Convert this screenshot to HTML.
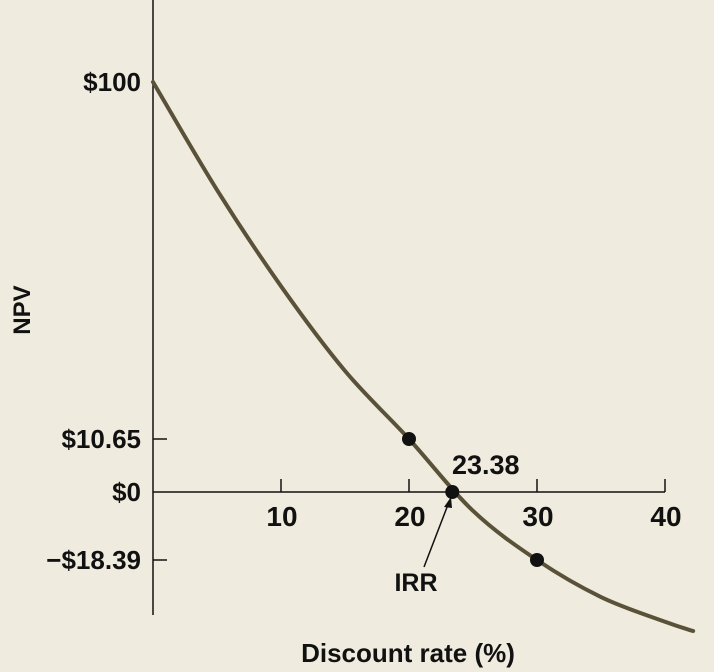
<!DOCTYPE html>
<html><head><meta charset="utf-8"><style>
html,body{margin:0;padding:0;background:#efebdf;}
svg{display:block;font-family:"Liberation Sans",sans-serif;font-weight:bold;}
</style></head><body>
<svg width="714" height="672" viewBox="0 0 714 672">
<rect width="714" height="672" fill="#efebdf"/>
<g id="axes"></g>
<path id="curve" fill="none" stroke="#5a5238" stroke-width="4" stroke-linecap="round"/>
<g id="dots"></g>
<text x="452" y="474" font-size="27" fill="#111" text-anchor="start">23.38</text>
<text x="416" y="591" font-size="25" fill="#111" text-anchor="middle">IRR</text>
<line x1="424" y1="567" x2="449" y2="502" stroke="#111" stroke-width="1.5"/>
<path d="M451,497 L444,507 L452,508 Z" fill="#111"/>
<text x="30" y="310" font-size="24" fill="#111" text-anchor="middle" transform="rotate(-90 30 310)">NPV</text>
<text x="408" y="662" font-size="26" fill="#111" text-anchor="middle">Discount rate (%)</text>
</svg>
<script>
const rates=[0,5,10,15,20,25,30,35,40,42.2];
const npvs=[100,73.0,48.9,27.7,10.65,-5.1,-18.39,-28.4,-35.1,-37.6];
const dotRates=[20,23.38,30];
const dotNpvs=[10.65,0,-18.39];
const xTicks=[10,20,30,40];
const yTicks=[100,10.65,0,-18.39];
const yTickLabels=["$100","$10.65","$0","\u2212$18.39"];
const NS="http://www.w3.org/2000/svg";
const x=r=>153+12.8*r;
const yDom=[100,10.65,0,-18.39], yRng=[82,439,492,560];
function y(v){
 let i=0;
 if(v<=yDom[2]) i=2; else if(v<=yDom[1]) i=1; else i=0;
 const t=(v-yDom[i])/(yDom[i+1]-yDom[i]);
 return yRng[i]+t*(yRng[i+1]-yRng[i]);
}
function mk(t,a,p){const e=document.createElementNS(NS,t);for(const k in a)e.setAttribute(k,a[k]);p.appendChild(e);return e;}
const ax=document.getElementById('axes');
let e=mk('line',{x1:153,y1:0,x2:153,y2:615,stroke:'#111','stroke-width':1.5},ax);


e=mk('line',{x1:153,y1:492,x2:x(40),y2:492,stroke:'#111','stroke-width':1.5},ax);


xTicks.forEach(t=>{
 let l=mk('line',{x1:x(t),y1:479,x2:x(t),y2:492,stroke:'#111','stroke-width':1.5},ax);
 
 
 let tx=mk('text',{x:x(t)+1,y:526,'font-size':28,'text-anchor':'middle',fill:'#111'},ax);
 tx.textContent=t;
 
 
});
yTicks.forEach((t,i)=>{
 if(t!==100&&t!==0){let l=mk('line',{x1:153,y1:y(t),x2:167,y2:y(t),stroke:'#111','stroke-width':1.5},ax);
 
 }
 let tx=mk('text',{x:141,y:y(t)+9,'font-size':26,'text-anchor':'end',fill:'#111'},ax);
 tx.textContent=yTickLabels[i];
 
 
});
const pts=rates.map((r,i)=>[x(r),y(npvs[i])]);
let d='M'+pts[0][0]+','+pts[0][1];
for(let i=0;i<pts.length-1;i++){
 const p0=pts[Math.max(0,i-1)],p1=pts[i],p2=pts[i+1],p3=pts[Math.min(pts.length-1,i+2)];
 d+=' C'+(p1[0]+(p2[0]-p0[0])/6)+','+(p1[1]+(p2[1]-p0[1])/6)+' '+(p2[0]-(p3[0]-p1[0])/6)+','+(p2[1]-(p3[1]-p1[1])/6)+' '+p2[0]+','+p2[1];
}
document.getElementById('curve').setAttribute('d',d);
const dg=document.getElementById('dots');
dotRates.forEach((r,i)=>{
 const c=mk('circle',{cx:x(r),cy:y(dotNpvs[i]),r:7,fill:'#111'},dg);
 
 
});
</script>
</body></html>
